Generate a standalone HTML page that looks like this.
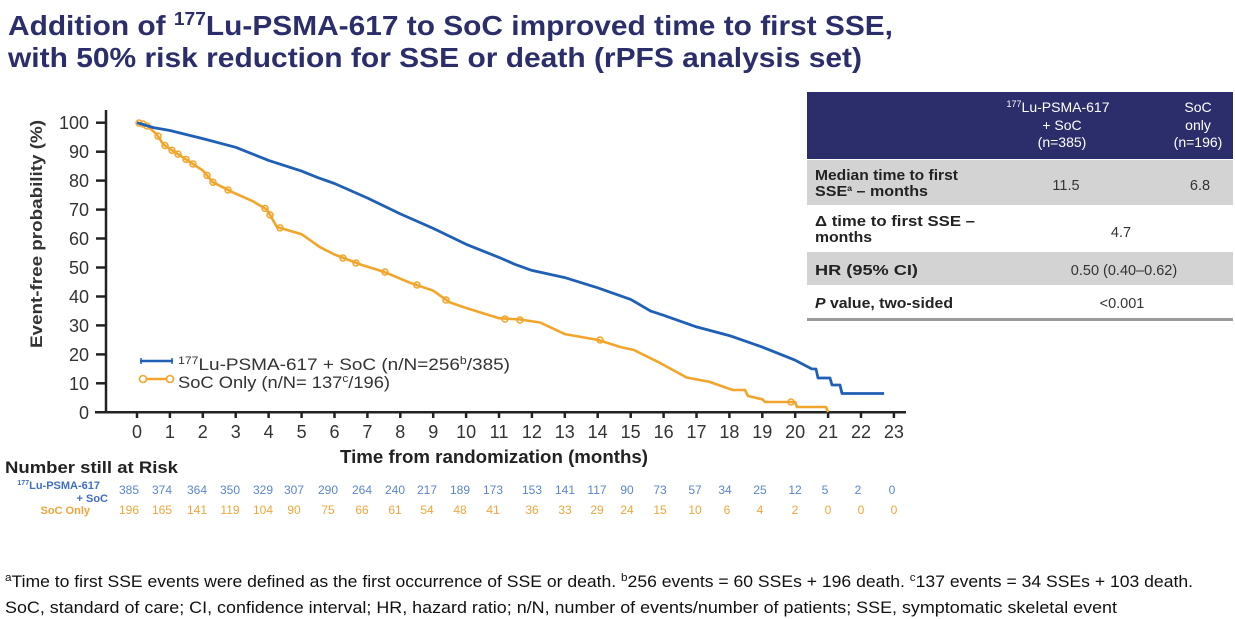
<!DOCTYPE html>
<html>
<head>
<meta charset="utf-8">
<style>
  html,body{margin:0;padding:0;background:#fff;}
  body{width:1235px;height:619px;overflow:hidden;}
  svg{display:block;}
  text{font-family:"Liberation Sans", Arial, sans-serif;}
</style>
</head>
<body>
<svg width="1235" height="619" viewBox="0 0 1235 619" xmlns="http://www.w3.org/2000/svg">
  <rect x="0" y="0" width="1235" height="619" fill="#ffffff"/>

  <!-- Title -->
  <g fill="#2c2e6c" font-weight="bold" font-size="28">
    <text x="8" y="35" textLength="885" lengthAdjust="spacingAndGlyphs">Addition of <tspan font-size="18" dy="-10">177</tspan><tspan dy="10">Lu-PSMA-617 to SoC improved time to first SSE,</tspan></text>
    <text x="8" y="67" textLength="854" lengthAdjust="spacingAndGlyphs">with 50% risk reduction for SSE or death (rPFS analysis set)</text>
  </g>

  <!-- Table -->
  <rect x="807" y="92" width="426" height="67" fill="#2c2e6c"/>
  <rect x="807" y="160" width="426" height="45" fill="#d3d3d3"/>
  <rect x="807" y="206" width="426" height="45" fill="#ffffff"/>
  <rect x="807" y="252" width="426" height="33" fill="#d3d3d3"/>
  <rect x="807" y="286" width="426" height="32" fill="#ffffff"/>
  <rect x="807" y="318" width="426" height="3" fill="#9a9a9a"/>

  <g fill="#ffffff" font-size="14" text-anchor="middle">
    <text x="1058" y="112"><tspan font-size="9" dy="-5">177</tspan><tspan dy="5">Lu-PSMA-617</tspan></text>
    <text x="1062" y="130">+ SoC</text>
    <text x="1062" y="147">(n=385)</text>
    <text x="1198" y="112">SoC</text>
    <text x="1198" y="130">only</text>
    <text x="1198" y="147">(n=196)</text>
  </g>
  <g fill="#222" font-size="14.5" font-weight="bold">
    <text x="815" y="180" textLength="143" lengthAdjust="spacingAndGlyphs">Median time to first</text>
    <text x="815" y="196" textLength="113" lengthAdjust="spacingAndGlyphs">SSE<tspan font-size="8" dy="-5">a</tspan><tspan dy="5"> – months</tspan></text>
    <text x="815" y="226" textLength="160" lengthAdjust="spacingAndGlyphs">Δ time to first SSE –</text>
    <text x="815" y="242" textLength="57" lengthAdjust="spacingAndGlyphs">months</text>
    <text x="815" y="275" textLength="103" lengthAdjust="spacingAndGlyphs">HR (95% CI)</text>
    <text x="815" y="308" textLength="138" lengthAdjust="spacingAndGlyphs"><tspan font-style="italic">P</tspan> value, two-sided</text>
  </g>
  <g fill="#333" font-size="14.5" text-anchor="middle">
    <text x="1066" y="190">11.5</text>
    <text x="1200" y="190">6.8</text>
    <text x="1121" y="237">4.7</text>
    <text x="1124" y="275">0.50 (0.40–0.62)</text>
    <text x="1122" y="308">&lt;0.001</text>
  </g>

  <!-- Axes -->
  <g stroke="#222" stroke-width="2.5" fill="none">
    <line x1="106" y1="110" x2="106" y2="413.5"/>
    <line x1="95" y1="412.3" x2="906" y2="412.3"/>
    <!-- y ticks -->
    <line x1="96" y1="122.7" x2="106" y2="122.7"/>
    <line x1="96" y1="151.7" x2="106" y2="151.7"/>
    <line x1="96" y1="180.6" x2="106" y2="180.6"/>
    <line x1="96" y1="209.6" x2="106" y2="209.6"/>
    <line x1="96" y1="238.5" x2="106" y2="238.5"/>
    <line x1="96" y1="267.5" x2="106" y2="267.5"/>
    <line x1="96" y1="296.5" x2="106" y2="296.5"/>
    <line x1="96" y1="325.4" x2="106" y2="325.4"/>
    <line x1="96" y1="354.4" x2="106" y2="354.4"/>
    <line x1="96" y1="383.3" x2="106" y2="383.3"/>
  </g>
  <g stroke="#222" stroke-width="2.5">
    <line x1="137.0" y1="412" x2="137.0" y2="418"/>
    <line x1="169.9" y1="412" x2="169.9" y2="418"/>
    <line x1="202.8" y1="412" x2="202.8" y2="418"/>
    <line x1="235.7" y1="412" x2="235.7" y2="418"/>
    <line x1="268.6" y1="412" x2="268.6" y2="418"/>
    <line x1="301.6" y1="412" x2="301.6" y2="418"/>
    <line x1="334.5" y1="412" x2="334.5" y2="418"/>
    <line x1="367.4" y1="412" x2="367.4" y2="418"/>
    <line x1="400.3" y1="412" x2="400.3" y2="418"/>
    <line x1="433.2" y1="412" x2="433.2" y2="418"/>
    <line x1="466.1" y1="412" x2="466.1" y2="418"/>
    <line x1="499.0" y1="412" x2="499.0" y2="418"/>
    <line x1="531.9" y1="412" x2="531.9" y2="418"/>
    <line x1="564.8" y1="412" x2="564.8" y2="418"/>
    <line x1="597.7" y1="412" x2="597.7" y2="418"/>
    <line x1="630.7" y1="412" x2="630.7" y2="418"/>
    <line x1="663.6" y1="412" x2="663.6" y2="418"/>
    <line x1="696.5" y1="412" x2="696.5" y2="418"/>
    <line x1="729.4" y1="412" x2="729.4" y2="418"/>
    <line x1="762.3" y1="412" x2="762.3" y2="418"/>
    <line x1="795.2" y1="412" x2="795.2" y2="418"/>
    <line x1="828.1" y1="412" x2="828.1" y2="418"/>
    <line x1="861.0" y1="412" x2="861.0" y2="418"/>
    <line x1="893.9" y1="412" x2="893.9" y2="418"/>
  </g>

  <!-- y tick labels -->
  <g fill="#333" font-size="18" text-anchor="end">
    <text x="89" y="129.2">100</text>
    <text x="89" y="158.2">90</text>
    <text x="89" y="187.1">80</text>
    <text x="89" y="216.1">70</text>
    <text x="89" y="245.0">60</text>
    <text x="89" y="274.0">50</text>
    <text x="89" y="303.0">40</text>
    <text x="89" y="331.9">30</text>
    <text x="89" y="360.9">20</text>
    <text x="89" y="389.8">10</text>
    <text x="89" y="418.8">0</text>
  </g>
  <!-- x tick labels -->
  <g fill="#333" font-size="18" text-anchor="middle">
    <text x="137.0" y="438">0</text>
    <text x="169.9" y="438">1</text>
    <text x="202.8" y="438">2</text>
    <text x="235.7" y="438">3</text>
    <text x="268.6" y="438">4</text>
    <text x="301.6" y="438">5</text>
    <text x="334.5" y="438">6</text>
    <text x="367.4" y="438">7</text>
    <text x="400.3" y="438">8</text>
    <text x="433.2" y="438">9</text>
    <text x="466.1" y="438">10</text>
    <text x="499.0" y="438">11</text>
    <text x="531.9" y="438">12</text>
    <text x="564.8" y="438">13</text>
    <text x="597.7" y="438">14</text>
    <text x="630.7" y="438">15</text>
    <text x="663.6" y="438">16</text>
    <text x="696.5" y="438">17</text>
    <text x="729.4" y="438">18</text>
    <text x="762.3" y="438">19</text>
    <text x="795.2" y="438">20</text>
    <text x="828.1" y="438">21</text>
    <text x="861.0" y="438">22</text>
    <text x="893.9" y="438">23</text>
  </g>

  <!-- axis titles -->
  <text x="340" y="463" fill="#222" font-size="18" font-weight="bold" textLength="308" lengthAdjust="spacingAndGlyphs">Time from randomization (months)</text>
  <text transform="translate(42,348) rotate(-90)" x="0" y="0" fill="#333" font-size="17" font-weight="bold" textLength="228" lengthAdjust="spacingAndGlyphs">Event-free probability (%)</text>

  <!-- Curves -->
  <polyline fill="none" stroke="#f2a52a" stroke-width="2.6" stroke-linejoin="round"
    points="137.0,122.7 146.9,125.6 156.7,134.3 163.3,144.4 183.1,157.5 202.8,170.5 212.7,182.1 232.4,192.2 252.2,200.9 267.0,209.6 276.9,227.0 301.6,234.2 320.0,247.2 334.5,254.5 360.8,264.6 383.8,271.8 410.2,282.8 433.2,290.7 449.6,302.3 466.1,308.0 499.0,318.2 520,319.5 540.1,322.5 564.8,334.1 597.7,339.9 620.8,347.1 633.9,350.0 660.3,363.1 686.6,377.5 709.6,381.9 732.7,390.0 745,390 748,396 762.3,399.3 765,402 795.2,402 797,407 826,407 828.1,412"/>
  <g fill="none" stroke="#f2a52a" stroke-width="1.5">
    <circle cx="139" cy="123" r="3"/>
    <circle cx="143" cy="124" r="3"/>
    <circle cx="147" cy="126" r="3"/>
    <circle cx="158" cy="136" r="3"/>
    <circle cx="165" cy="145.5" r="3"/>
    <circle cx="172" cy="150.2" r="3"/>
    <circle cx="178" cy="154.1" r="3"/>
    <circle cx="186" cy="159.4" r="3"/>
    <circle cx="193" cy="164" r="3"/>
    <circle cx="207" cy="175.4" r="3"/>
    <circle cx="213" cy="182.2" r="3"/>
    <circle cx="228" cy="190" r="3"/>
    <circle cx="265" cy="208.4" r="3"/>
    <circle cx="270" cy="214.9" r="3"/>
    <circle cx="280" cy="227.9" r="3"/>
    <circle cx="343" cy="258" r="3"/>
    <circle cx="356" cy="263" r="3"/>
    <circle cx="385" cy="272" r="3"/>
    <circle cx="417" cy="285" r="3"/>
    <circle cx="446" cy="300" r="3"/>
    <circle cx="505" cy="319" r="3"/>
    <circle cx="520" cy="320" r="3"/>
    <circle cx="600" cy="340" r="3"/>
    <circle cx="791" cy="402" r="3"/>
  </g>

  <polyline fill="none" stroke="#1f5fb5" stroke-width="2.8" stroke-linejoin="round"
    points="137.0,122.7 153.5,127.6 169.9,130.5 202.8,138.6 235.7,147.3 268.6,160.4 301.6,171.1 318.0,177.7 334.5,183.5 367.4,198.0 400.3,213.9 433.2,228.4 466.1,244.3 499.0,257.4 515.5,264.6 531.9,270.4 564.8,277.6 597.7,287.8 630.7,299.4 650.4,310.9 663.6,315.3 696.5,326.9 729.4,335.6 762.3,347.1 795.2,360.2 811.7,368.9 816,369 818,378 830,378 832,385 840,385 842,393.5 884.1,393.5"/>

  <!-- Legend -->
  <line x1="140" y1="361" x2="173" y2="361" stroke="#1f5fb5" stroke-width="2.5"/>
  <line x1="141" y1="358" x2="141" y2="364" stroke="#1f5fb5" stroke-width="1.5"/>
  <line x1="172" y1="358" x2="172" y2="364" stroke="#1f5fb5" stroke-width="1.5"/>
  <line x1="140" y1="379" x2="173" y2="379" stroke="#f2a52a" stroke-width="2.5"/>
  <circle cx="143" cy="379" r="3.5" fill="#fff" stroke="#f2a52a" stroke-width="1.6"/>
  <circle cx="170" cy="379" r="3.5" fill="#fff" stroke="#f2a52a" stroke-width="1.6"/>
  <g fill="#333" font-size="17">
    <text x="178" y="370" textLength="332" lengthAdjust="spacingAndGlyphs"><tspan font-size="11" dy="-6">177</tspan><tspan dy="6">Lu-PSMA-617 + SoC (n/N=256</tspan><tspan font-size="11" dy="-6">b</tspan><tspan dy="6">/385)</tspan></text>
    <text x="178" y="388" textLength="212" lengthAdjust="spacingAndGlyphs">SoC Only (n/N= 137<tspan font-size="11" dy="-6">c</tspan><tspan dy="6">/196)</tspan></text>
  </g>

  <!-- Number at risk -->
  <text x="5" y="473" fill="#222" font-size="17" font-weight="bold" textLength="173" lengthAdjust="spacingAndGlyphs">Number still at Risk</text>
  <g font-size="11" font-weight="bold" text-anchor="end">
    <text x="100" y="489" fill="#3f6fc0"><tspan font-size="7" dy="-4">177</tspan><tspan dy="4">Lu-PSMA-617</tspan></text>
    <text x="108" y="502" fill="#3f6fc0">+ SoC</text>
    <text x="90" y="514" fill="#f0a53a">SoC Only</text>
  </g>
  <g font-size="12" fill="#5a86cf" text-anchor="middle">
    <text x="129" y="494">385</text>
    <text x="162" y="494">374</text>
    <text x="197" y="494">364</text>
    <text x="230" y="494">350</text>
    <text x="263" y="494">329</text>
    <text x="294" y="494">307</text>
    <text x="328" y="494">290</text>
    <text x="362" y="494">264</text>
    <text x="395" y="494">240</text>
    <text x="427" y="494">217</text>
    <text x="460" y="494">189</text>
    <text x="493" y="494">173</text>
    <text x="532" y="494">153</text>
    <text x="565" y="494">141</text>
    <text x="597" y="494">117</text>
    <text x="627" y="494">90</text>
    <text x="660" y="494">73</text>
    <text x="695" y="494">57</text>
    <text x="725" y="494">34</text>
    <text x="760" y="494">25</text>
    <text x="795" y="494">12</text>
    <text x="825" y="494">5</text>
    <text x="858" y="494">2</text>
    <text x="892" y="494">0</text>
  </g>
  <g font-size="12" fill="#f0a53a" text-anchor="middle">
    <text x="129" y="514">196</text>
    <text x="162" y="514">165</text>
    <text x="197" y="514">141</text>
    <text x="230" y="514">119</text>
    <text x="263" y="514">104</text>
    <text x="294" y="514">90</text>
    <text x="328" y="514">75</text>
    <text x="362" y="514">66</text>
    <text x="395" y="514">61</text>
    <text x="427" y="514">54</text>
    <text x="460" y="514">48</text>
    <text x="493" y="514">41</text>
    <text x="532" y="514">36</text>
    <text x="565" y="514">33</text>
    <text x="597" y="514">29</text>
    <text x="627" y="514">24</text>
    <text x="660" y="514">15</text>
    <text x="695" y="514">10</text>
    <text x="727" y="514">6</text>
    <text x="760" y="514">4</text>
    <text x="795" y="514">2</text>
    <text x="828" y="514">0</text>
    <text x="861" y="514">0</text>
    <text x="894" y="514">0</text>
  </g>

  <!-- Footnotes -->
  <g fill="#111" font-size="16.5">
    <text x="5" y="587" textLength="1188" lengthAdjust="spacingAndGlyphs"><tspan font-size="11" dy="-6">a</tspan><tspan dy="6">Time to first SSE events were defined as the first occurrence of SSE or death. </tspan><tspan font-size="11" dy="-6">b</tspan><tspan dy="6">256 events = 60 SSEs + 196 death. </tspan><tspan font-size="11" dy="-6">c</tspan><tspan dy="6">137 events = 34 SSEs + 103 death.</tspan></text>
    <text x="5" y="613" textLength="1112" lengthAdjust="spacingAndGlyphs">SoC, standard of care; CI, confidence interval; HR, hazard ratio; n/N, number of events/number of patients; SSE, symptomatic skeletal event</text>
  </g>
</svg>
</body>
</html>
